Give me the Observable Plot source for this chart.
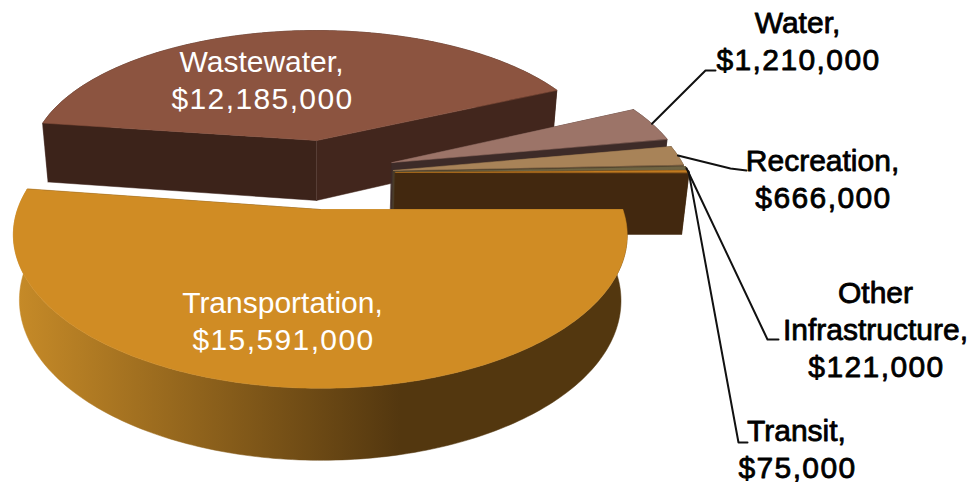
<!DOCTYPE html>
<html>
<head>
<meta charset="utf-8">
<style>html,body{margin:0;padding:0;background:#fff}svg{display:block}</style>
<script src="https://cdn.jsdelivr.net/npm/d3@7"></script>
<script src="https://cdn.jsdelivr.net/npm/@observablehq/plot@0.6"></script>
</head>
<body>
<div id="chart"></div>
<script>
// Budget categories and amounts, clockwise from the three o'clock position.
const categories = ["Transportation", "Wastewater", "Water", "Recreation", "Other Infrastructure", "Transit"];
const amounts = [15591000, 12185000, 1210000, 666000, 121000, 75000];

// Slice styling.
const topColors = ["#d08c24", "#8c5440", "#9c7468", "#a88358", "#6f6443", "#c07a20"];
const rimColors = ["url(#rimShade)", "#3c231a", "#3d2b28", "#4a3a2a", "#4a3a22", "#42280f"];
const endColors = ["#53370f", "#42261d", "#3d2b28", "#4a3d2c", "#4a3a22", "#42280f"];
const startColors = ["#b88025", "#3c231a", "#3d2b28", "#4a3a2a", "#4a3a22", "#42280f"];
// How far each slice is pulled out of the pie, in radii on the pie plane.
const explodeX = [0.012, 0, 0.26, 0.263, 0.268, 0.27];
const explodeY = [0, -0.502, -0.3325, -0.274, -0.262, -0.259];
// Horizontal radius of each slice relative to the whole pie.
const reach = [0.989, 1, 1, 1, 1, 1];

// Label placement: text centre, first baseline, and the elbow of the leader line.
const labelX = [282, 261, 797, 822, 875, 796];
const labelY = [312, 71, 32, 170, 302, 440];
const lineGap = 37;
const labelColors = ["#fff", "#fff", "#000", "#000", "#000", "#000"];
const labelLines = [["Transportation,"], ["Wastewater,"], ["Water,"], ["Recreation,"], ["Other", "Infrastructure,"], ["Transit,"]];
const elbows = [null, null, [[705, 70], [715, 70]], [[730, 168], [746, 170]], [[767, 339], [778, 339]], [[738, 442], [747, 442]]];

// Tilted-plane perspective: near points spread, far points shrink.
const cx = 316, cy = 209, radiusX = 306, tilt = 149, vanish = 6;
const project = (X, Y) => {
  const s = 1 / (1 - Y / vanish);
  return [cx + radiusX * X * s, cy + tilt * Y * s];
};
// The same point on the underside of the pie.
const lower = (X, Y) => {
  const [x, y] = project(X, Y);
  return [cx + (x - cx) * 0.98, y + 64 + 8 * Y];
};

const total = d3.sum(amounts);
const money = d3.format("$,");
const rad = Math.PI / 180;
let running = 0;
const slices = categories.map((name, i) => {
  const a0 = running / total * 360;
  running += amounts[i];
  const a1 = running / total * 360;
  const ex = explodeX[i], ey = explodeY[i];
  const at = a => [ex + reach[i] * Math.cos(a * rad), ey + Math.sin(a * rad)];
  const n = Math.max(2, Math.ceil(a1 - a0));
  const arc = d3.range(n + 1).map(k => at(a0 + (a1 - a0) * k / n));
  return {name, i, a0, a1, ex, ey, at, arc};
});

const polygon = pts => pts.map(([x, y]) => ({x, y}));
const face = (pts, fill) => Plot.line(polygon(pts), {x: "x", y: "y", fill, stroke: fill, strokeWidth: 0.5, curve: "linear-closed"});

// Painter's order: far slices first, the large near slice last.
const paintOrder = [1, 2, 3, 4, 5, 0];
const pieMarks = paintOrder.flatMap(i => {
  const s = slices[i];
  const first = s.arc[0], last = s.arc[s.arc.length - 1];
  const cut = (p, fill) => face([project(s.ex, s.ey), project(...p), lower(...p), lower(s.ex, s.ey)], fill);
  const rim = face([...s.arc.map(p => project(...p)), ...s.arc.slice().reverse().map(p => lower(...p))], rimColors[i]);
  const top = face([project(s.ex, s.ey), ...s.arc.map(p => project(...p))], topColors[i]);
  return [rim, cut(first, startColors[i]), cut(last, endColors[i]), top];
});

// Leader lines run from the outer edge of each small slice to its label.
const leaders = slices.filter(s => elbows[s.i]).flatMap(s => {
  const start = project(...s.at((s.a0 + s.a1) / 2));
  return [start, ...elbows[s.i]].map(([x, y]) => ({name: s.name, x, y}));
});

const nameRows = slices.flatMap(s => labelLines[s.i].map((text, k) => ({
  text, x: labelX[s.i], y: labelY[s.i] + k * lineGap, fill: labelColors[s.i]
})));
const valueRows = slices.map(s => ({
  text: money(amounts[s.i]),
  x: labelX[s.i] + 1,
  y: labelY[s.i] + labelLines[s.i].length * lineGap,
  fill: labelColors[s.i]
}));

const font = {fontFamily: "'Liberation Sans', Arial, sans-serif", fontSize: 30, textAnchor: "middle", lineAnchor: "bottom"};
const heavy = r => r.fill === "#000";
const spaced = gap => (index, scales, values, dims, context, next) => {
  const g = next(index, scales, values, dims, context);
  g.style.letterSpacing = gap;
  return g;
};
const textLayer = (rows, render) => [
  Plot.text(rows.filter(r => !heavy(r)), {...font, x: "x", y: "y", text: "text", fill: "#fff", render}),
  Plot.text(rows.filter(heavy), {...font, x: "x", y: "y", text: "text", fill: "#000", stroke: "#000", strokeWidth: 0.8, render})
];

const plot = Plot.plot({
  width: 974,
  height: 482,
  margin: 0,
  x: {domain: [0, 974], range: [0, 974], axis: null},
  y: {domain: [0, 482], range: [0, 482], axis: null},
  style: {background: "#fff"},
  marks: [
    () => {
      const defs = d3.create("svg:defs");
      const g = defs.append("linearGradient").attr("id", "rimShade")
        .attr("gradientUnits", "userSpaceOnUse")
        .attr("x1", 13).attr("x2", 400).attr("y1", 0).attr("y2", 0);
      g.append("stop").attr("offset", "0%").attr("stop-color", "#c78b28");
      g.append("stop").attr("offset", "100%").attr("stop-color", "#53370f");
      return defs.node();
    },
    ...pieMarks,
    Plot.line(leaders, {x: "x", y: "y", z: "name", stroke: "#111", strokeWidth: 2, curve: "linear"}),
    ...textLayer(nameRows),
    ...textLayer(valueRows, spaced("1.4px"))
  ]
});
document.getElementById("chart").append(plot);
</script>
</body>
</html>
